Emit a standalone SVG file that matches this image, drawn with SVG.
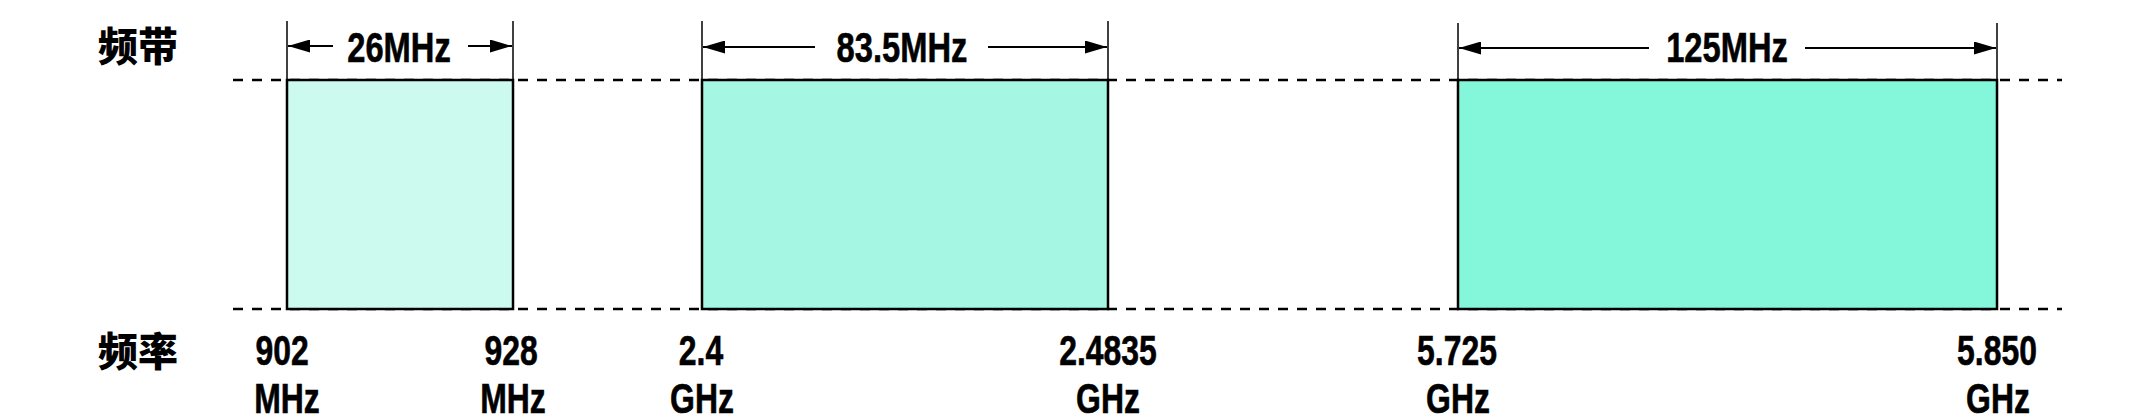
<svg xmlns="http://www.w3.org/2000/svg" width="2134" height="420" viewBox="0 0 2134 420">
<style>
.lbl{font-family:"Liberation Sans",Arial,sans-serif;font-weight:bold;font-size:43px;fill:#000;stroke:#000;stroke-width:0.6;text-anchor:middle}
.num{font-family:"Liberation Sans",Arial,sans-serif;font-weight:bold;font-size:42px;fill:#000;stroke:#000;stroke-width:0.6;text-anchor:middle}
.cjk{font-family:"Noto Sans CJK SC","Noto Sans CJK JP",sans-serif;font-weight:900;font-size:40px;fill:#000}
.dash{stroke:#000;stroke-width:2.4;stroke-dasharray:10 9;fill:none}
.box{stroke:#000;stroke-width:2.5}
.ext{stroke:#000;stroke-width:1.5}
.arr{stroke:#000;stroke-width:2.2;fill:none}
</style>
<defs>
<marker id="ah" viewBox="0 0 22 13" refX="22" refY="6.5" markerWidth="22" markerHeight="13" markerUnits="userSpaceOnUse" orient="auto-start-reverse">
<path d="M0,0 L22,6.5 L0,13 Z" fill="#000"/>
</marker>
</defs>
<rect width="2134" height="420" fill="#fff"/>
<g id="axis-labels">
<text class="cjk" x="98" y="61">频带</text>
<text class="cjk" x="98" y="366">频率</text>
</g>
<g id="guides">
<line class="dash" x1="233" y1="80" x2="2062" y2="80"/>
<line class="dash" x1="233" y1="309" x2="2062" y2="309"/>
</g>
<g id="band-900">
<rect class="box" x="287" y="80" width="226" height="229" fill="#CCFAEF"/>
<text class="lbl" transform="translate(399,62) scale(0.76,1)">26MHz</text>
<text class="num" transform="translate(282,365) scale(0.76,1)">902</text>
<text class="num" transform="translate(287,413) scale(0.76,1)">MHz</text>
<text class="num" transform="translate(511,365) scale(0.76,1)">928</text>
<text class="num" transform="translate(513,413) scale(0.76,1)">MHz</text>
</g>
<g id="band-2400">
<rect class="box" x="702" y="80" width="406" height="229" fill="#A6F6E4"/>
<text class="lbl" transform="translate(902,62) scale(0.76,1)">83.5MHz</text>
<text class="num" transform="translate(701,365) scale(0.76,1)">2.4</text>
<text class="num" transform="translate(702,413) scale(0.76,1)">GHz</text>
<text class="num" transform="translate(1108,365) scale(0.76,1)">2.4835</text>
<text class="num" transform="translate(1108,413) scale(0.76,1)">GHz</text>
</g>
<g id="band-5800">
<rect class="box" x="1458" y="80" width="539" height="229" fill="#84F6DA"/>
<text class="lbl" transform="translate(1727,62) scale(0.76,1)">125MHz</text>
<text class="num" transform="translate(1457,365) scale(0.76,1)">5.725</text>
<text class="num" transform="translate(1458,413) scale(0.76,1)">GHz</text>
<text class="num" transform="translate(1997,365) scale(0.76,1)">5.850</text>
<text class="num" transform="translate(1998,413) scale(0.76,1)">GHz</text>
</g>
<g id="connectors">
<line class="ext" x1="287" y1="21" x2="287" y2="80"/>
<line class="ext" x1="513" y1="21" x2="513" y2="80"/>
<line class="ext" x1="702" y1="21" x2="702" y2="80"/>
<line class="ext" x1="1108" y1="21" x2="1108" y2="80"/>
<line class="ext" x1="1458" y1="23" x2="1458" y2="80"/>
<line class="ext" x1="1997" y1="23" x2="1997" y2="80"/>
<line class="arr" x1="333" y1="46" x2="288" y2="46" marker-end="url(#ah)"/>
<line class="arr" x1="468" y1="46" x2="512" y2="46" marker-end="url(#ah)"/>
<line class="arr" x1="815" y1="47" x2="703" y2="47" marker-end="url(#ah)"/>
<line class="arr" x1="988" y1="47" x2="1107" y2="47" marker-end="url(#ah)"/>
<line class="arr" x1="1649" y1="48" x2="1459" y2="48" marker-end="url(#ah)"/>
<line class="arr" x1="1805" y1="48" x2="1996" y2="48" marker-end="url(#ah)"/>
</g>
</svg>
